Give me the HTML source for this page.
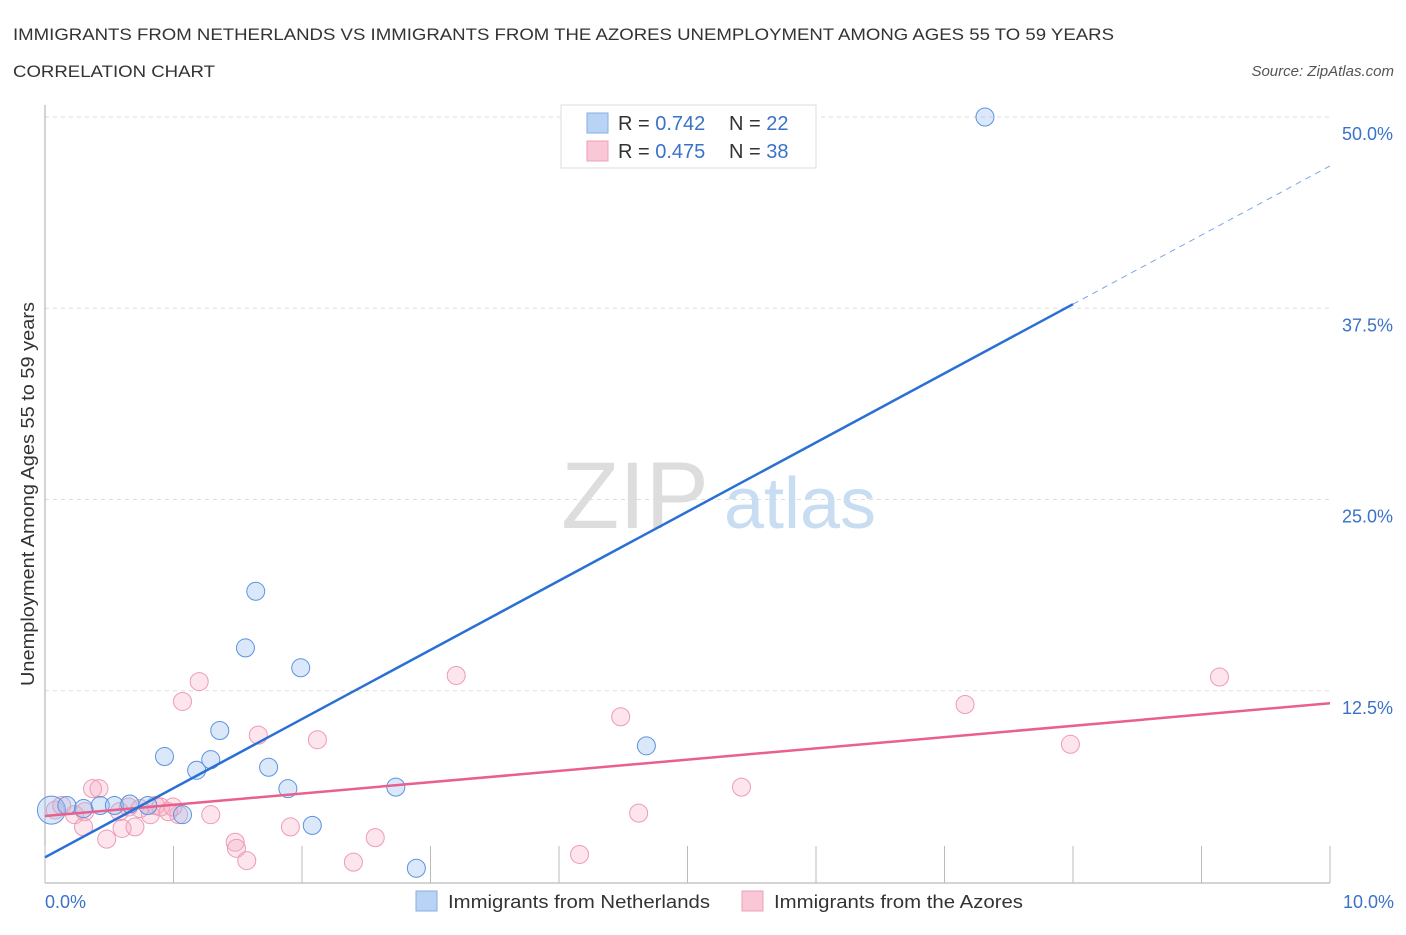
<!DOCTYPE html>
<html><head><meta charset="utf-8"><style>
body{margin:0;background:#fff;font-family:"Liberation Sans",sans-serif;}
svg text{font-family:"Liberation Sans",sans-serif;}
</style></head><body>
<svg id="chart" width="1406" height="930" viewBox="0 0 1406 930">
<text x="13" y="40" font-size="17" fill="#333" textLength="1101" lengthAdjust="spacingAndGlyphs">IMMIGRANTS FROM NETHERLANDS VS IMMIGRANTS FROM THE AZORES UNEMPLOYMENT AMONG AGES 55 TO 59 YEARS</text>
<text x="13" y="77" font-size="17" fill="#333" textLength="202" lengthAdjust="spacingAndGlyphs">CORRELATION CHART</text>
<text x="1394" y="76" font-size="15" fill="#555" font-style="italic" text-anchor="end">Source: ZipAtlas.com</text>
<g id="grid"></g>
<text x="635" y="528" font-size="95" fill="#ddd" font-family="Liberation Serif" text-anchor="middle">ZIP</text>
<text x="800" y="528" font-size="72" fill="#c8dcf2" text-anchor="middle">atlas</text>
<g id="marks"></g>
<text x="34" y="494" font-size="18" fill="#333" text-anchor="middle" textLength="384" lengthAdjust="spacingAndGlyphs" transform="rotate(-90 34 494)">Unemployment Among Ages 55 to 59 years</text>
<text x="45" y="908" font-size="18" fill="#3a72c9">0.0%</text>
<text x="1394" y="908" font-size="18" fill="#3a72c9" text-anchor="end">10.0%</text>
<g>
<rect x="561" y="105" width="255" height="63" fill="#fff" stroke="#ddd"/>
<rect x="587" y="113" width="21" height="20" fill="#b9d3f5" stroke="#86aee6"/>
<rect x="587" y="141" width="21" height="20" fill="#f9c7d5" stroke="#eda0b6"/>
<text x="618" y="130" font-size="20" fill="#333">R = <tspan fill="#3a72c9">0.742</tspan><tspan x="729">N = </tspan><tspan fill="#3a72c9">22</tspan></text>
<text x="618" y="158" font-size="20" fill="#333">R = <tspan fill="#3a72c9">0.475</tspan><tspan x="729">N = </tspan><tspan fill="#3a72c9">38</tspan></text>
</g>
<g>
<rect x="416" y="891" width="21" height="20" fill="#b9d3f5" stroke="#86aee6"/>
<text x="448" y="908" font-size="18" fill="#333" textLength="262" lengthAdjust="spacingAndGlyphs">Immigrants from Netherlands</text>
<rect x="742" y="891" width="21" height="20" fill="#f9c7d5" stroke="#eda0b6"/>
<text x="774" y="908" font-size="18" fill="#333" textLength="249" lengthAdjust="spacingAndGlyphs">Immigrants from the Azores</text>
</g>
</svg>
<script>
const yTicks=[12.5,25,37.5,50];
const yTickLabels=["12.5%","25.0%","37.5%","50.0%"];
const xTicks=[0,1,2,3,4,5,6,7,8,9,10];
const blueX=[0.05,0.17,0.30,0.43,0.54,0.66,0.80,1.07,0.93,1.18,1.29,1.36,1.56,1.64,1.74,1.89,1.99,2.08,2.73,2.89,4.68,7.315];
const blueY=[4.7,5.0,4.8,5.0,5.0,5.1,5.0,4.4,8.2,7.3,8.0,9.9,15.3,19.0,7.5,6.1,14.0,3.7,6.2,0.9,8.9,50.0];
const blueR=[14,9,9,9,9,9,9,9,9,9,9,9,9,9,9,9,9,9,9,9,9,9];
const pinkX=[0.08,0.13,0.23,0.31,0.37,0.42,0.30,0.48,0.58,0.60,0.70,0.65,0.82,0.86,0.90,0.96,1.04,1.07,1.20,1.29,1.48,1.49,1.57,1.66,1.91,2.12,2.40,2.57,3.20,4.16,4.48,4.62,5.42,7.16,7.98,9.14,0.74,0.996];
const pinkY=[4.7,5.0,4.4,4.6,6.1,6.1,3.6,2.8,4.6,3.5,3.6,4.9,4.4,5.0,4.9,4.6,4.4,11.8,13.1,4.4,2.6,2.2,1.4,9.6,3.6,9.3,1.3,2.9,13.5,1.8,10.8,4.5,6.2,11.6,9.0,13.4,4.8,4.9];
const xMax=10,yMax=50;
const X=v=>45+v/xMax*1285, Y=v=>882-v/yMax*765;
const NS="http://www.w3.org/2000/svg";
const grid=document.getElementById('grid'),marks=document.getElementById('marks');
function mk(tag,attrs,parent){const e=document.createElementNS(NS,tag);for(const k in attrs)e.setAttribute(k,attrs[k]);parent.appendChild(e);return e;}
yTicks.forEach((t,i)=>{
 const l=mk('line',{x1:45,x2:1330,y1:Y(t),y2:Y(t),stroke:'#ddd','stroke-dasharray':'4 4'},grid);
 
 
 const tx=mk('text',{x:1393,y:Y(t)+23,'font-size':18,fill:'#3a72c9','text-anchor':'end'},grid);
 tx.textContent=yTickLabels[i];
 
 
});
const ax=mk('line',{x1:45,x2:45,y1:105,y2:883,stroke:'#aaa'},grid);


const bx=mk('line',{x1:45,x2:1330,y1:883,y2:883,stroke:'#aaa'},grid);


xTicks.forEach(t=>{
 const l=mk('line',{x1:X(t),x2:X(t),y1:846,y2:883,stroke:'#bbb'},grid);
 
 
});
pinkX.forEach((x,i)=>{
 const c=mk('circle',{cx:X(x),cy:Y(pinkY[i]),r:9,fill:'rgba(245,170,195,0.3)',stroke:'#ef9ab3','stroke-width':1},marks);
 
 
});
blueX.forEach((x,i)=>{
 const c=mk('circle',{cx:X(x),cy:Y(blueY[i]),r:blueR[i],fill:'rgba(150,190,240,0.35)',stroke:'#5b93de','stroke-width':1},marks);
 
 
});
function fit(xs,ys){const n=xs.length;let mx=0,my=0;for(let i=0;i<n;i++){mx+=xs[i];my+=ys[i];}mx/=n;my/=n;let sxy=0,sxx=0;for(let i=0;i<n;i++){sxy+=(xs[i]-mx)*(ys[i]-my);sxx+=(xs[i]-mx)**2;}const b=sxy/sxx;return [my-b*mx,b];}
const [pa,pb]=fit(pinkX,pinkY);
const pl=mk('line',{x1:X(0),y1:Y(pa),x2:X(10),y2:Y(pa+pb*10),stroke:'#e8608b','stroke-width':2.5},marks);


const [ba,bb]=fit(blueX,blueY);
const bl=mk('line',{x1:X(0),y1:Y(ba),x2:X(8),y2:Y(ba+bb*8),stroke:'#2a6fd6','stroke-width':2.5},marks);


const bd=mk('line',{x1:X(8),y1:Y(ba+bb*8),x2:X(10),y2:Y(ba+bb*10),stroke:'#7aa6e6','stroke-width':1,'stroke-dasharray':'6 5'},marks);


</script>
</body></html>
